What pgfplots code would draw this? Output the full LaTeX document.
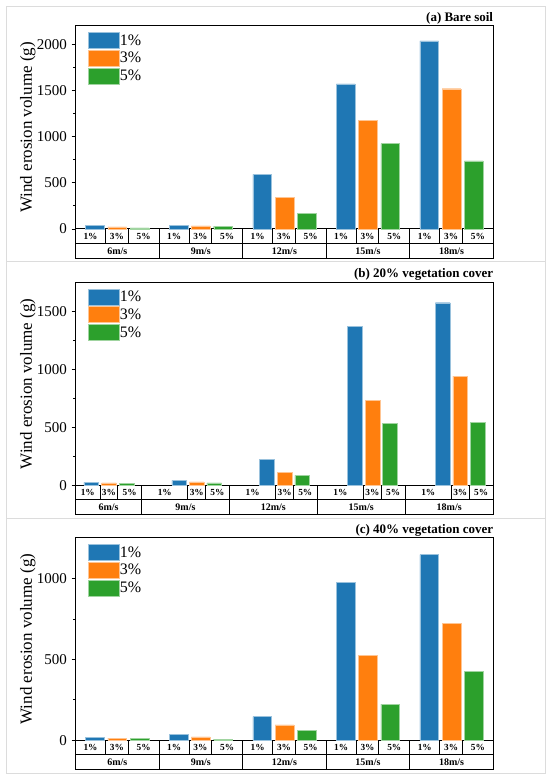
\documentclass[border=0pt]{standalone}
\usepackage{fontspec}
\setmainfont{Liberation Serif}
\usepackage{pgfplots}
\pgfplotsset{compat=1.18}
\definecolor{tabblue}{HTML}{1F77B4}
\definecolor{taborange}{HTML}{FF7F0E}
\definecolor{tabgreen}{HTML}{2CA02C}
\definecolor{panelgray}{HTML}{DCDCDC}

\tikzset{
  tabline/.style={line width=0.9pt},
  r1/.style={font=\fontsize{9.3}{9.3}\selectfont\bfseries, inner sep=0pt},
  r2/.style={font=\fontsize{10}{10}\selectfont\bfseries, inner sep=0pt},
  bstyle/.style={fill=#1, draw=#1!45!white, line width=0.4pt},
}
% vertical table line at x=#1 going down #2 pt
\newcommand{\vl}[2]{\draw[tabline] (axis cs:#1,0) -- ([yshift=-#2pt]axis cs:#1,0);}
% table frame: total depth #1, row separator #2
\newcommand{\tframe}[2]{%
  \draw[tabline] (rel axis cs:0,0) -- ([yshift=-#1pt]rel axis cs:0,0) -- ([yshift=-#1pt]rel axis cs:1,0) -- (rel axis cs:1,0);
  \draw[tabline] ([yshift=-#2pt]rel axis cs:0,0) -- ([yshift=-#2pt]rel axis cs:1,0);}
\newcommand{\ta}[3]{\node[r1] at ([yshift=-#2pt]axis cs:#1,0) {#3};}
\newcommand{\tb}[3]{\node[r2] at ([yshift=-#2pt]axis cs:#1,0) {#3};}

\pgfplotsset{
  panel/.style={
    scale only axis,
    width=417.8pt,
    ymin=0,
    clip=false,
    axis line style={line width=1pt},
    xtick=\empty,
    ytick pos=left,
    tick align=outside,
    major tick length=4pt,
    minor tick length=2.5pt,
    minor y tick num=1,
    every tick/.style={black, line width=0.8pt},
    /pgf/number format/assume math mode=true,
    /pgf/number format/1000 sep={},
    yticklabel style={font=\fontsize{15}{15}\selectfont, xshift=-1pt},
    ylabel={Wind erosion volume (g)},
    ylabel style={at={(axis description cs:-0.114,0.5)}, anchor=center, font=\fontsize{17}{17}\selectfont},
    legend style={at={(axis description cs:0.0306,0.968)}, anchor=north west, draw=none, fill=none,
      inner sep=0pt, outer sep=0pt, row sep=1.2pt,
      font=\fontsize{16}{16}\selectfont,
      nodes={inner sep=0pt}},
    legend cell align=left,
    /tikz/every even column/.append style={column sep=3.5pt},
  },
  leg/.style={legend image code/.code={\draw[##1, line width=0.5pt] (0pt,-8pt) rectangle (31pt,8pt);}},
}

\begin{document}
\begin{tikzpicture}[x=1pt,y=1pt]
\path[use as bounding box] (0,0) rectangle (550,777);
\draw[panelgray, line width=0.8pt] (6,771) rectangle (545,516);
\draw[panelgray, line width=0.8pt] (6,516) rectangle (545,259);
\draw[panelgray, line width=0.8pt] (6,259) rectangle (545,4);

% ---------------- Panel (a) ----------------
\begin{axis}[panel, at={(75.5pt,548pt)}, anchor=south west, height=203.3pt,
  xmin=0.5, xmax=5.5, ymax=2200, ytick={0,500,1000,1500,2000},
  ybar, bar width=0.224, leg]
\addplot[bstyle=tabblue, bar shift=-0.266] coordinates {(1,40) (2,43) (3,590) (4,1570) (5,2035)};
\addplot[bstyle=taborange, bar shift=0] coordinates {(1,22) (2,33) (3,345) (4,1175) (5,1518)};
\addplot[bstyle=tabgreen, bar shift=0.266] coordinates {(1,11) (2,28) (3,170) (4,925) (5,738)};
\legend{1\%,3\%,5\%}
\node[anchor=base east, inner sep=0pt, font=\fontsize{13}{13}\selectfont\bfseries] at ([yshift=4.5pt]rel axis cs:1,1) {(a) Bare soil};
\tframe{29.5}{14.5}
\vl{1.5}{29.5}\vl{2.5}{29.5}\vl{3.5}{29.5}\vl{4.5}{29.5}
\vl{0.86}{14.5}\vl{1.13}{14.5}\vl{1.86}{14.5}\vl{2.13}{14.5}\vl{2.86}{14.5}
\vl{3.13}{14.5}\vl{3.86}{14.5}\vl{4.13}{14.5}\vl{4.86}{14.5}\vl{5.13}{14.5}
\ta{0.68}{7.25}{1\%}\ta{0.995}{7.25}{3\%}\ta{1.315}{7.25}{5\%}
\ta{1.68}{7.25}{1\%}\ta{1.995}{7.25}{3\%}\ta{2.315}{7.25}{5\%}
\ta{2.68}{7.25}{1\%}\ta{2.995}{7.25}{3\%}\ta{3.315}{7.25}{5\%}
\ta{3.68}{7.25}{1\%}\ta{3.995}{7.25}{3\%}\ta{4.315}{7.25}{5\%}
\ta{4.68}{7.25}{1\%}\ta{4.995}{7.25}{3\%}\ta{5.315}{7.25}{5\%}
\tb{1}{22}{6m/s}\tb{2}{22}{9m/s}\tb{3}{22}{12m/s}\tb{4}{22}{15m/s}\tb{5}{22}{18m/s}
\end{axis}

% ---------------- Panel (b) ----------------
\begin{axis}[panel, at={(75.5pt,291.7pt)}, anchor=south west, height=203pt,
  xmin=0.1, xmax=23.88, ymax=1750, ytick={0,500,1000,1500},
  ybar, bar width=0.84, leg]
\addplot[bstyle=tabblue, bar shift=0] coordinates {(1,26) (6,43) (11,224) (16,1368) (21,1574)};
\addplot[bstyle=taborange, bar shift=0] coordinates {(2,20) (7,29) (12,112) (17,734) (22,941)};
\addplot[bstyle=tabgreen, bar shift=0] coordinates {(3,14) (8,20) (13,86) (18,533) (23,542)};
\legend{1\%,3\%,5\%}
\node[anchor=base east, inner sep=0pt, font=\fontsize{13}{13}\selectfont\bfseries] at ([yshift=4.5pt]rel axis cs:1,1) {(b) 20\% vegetation cover};
\tframe{29}{14}
\vl{3.86}{29}\vl{8.86}{29}\vl{13.86}{29}\vl{18.86}{29}
\vl{1.5}{14}\vl{2.5}{14}\vl{6.5}{14}\vl{7.5}{14}\vl{11.5}{14}
\vl{12.5}{14}\vl{16.5}{14}\vl{17.5}{14}\vl{21.5}{14}\vl{22.5}{14}
\ta{0.8}{7}{1\%}\ta{2}{7}{3\%}\ta{3.18}{7}{5\%}
\ta{5.18}{7}{1\%}\ta{7}{7}{3\%}\ta{8.18}{7}{5\%}
\ta{10.18}{7}{1\%}\ta{12}{7}{3\%}\ta{13.18}{7}{5\%}
\ta{15.18}{7}{1\%}\ta{17}{7}{3\%}\ta{18.18}{7}{5\%}
\ta{20.18}{7}{1\%}\ta{22}{7}{3\%}\ta{23.19}{7}{5\%}
\tb{1.98}{21.5}{6m/s}\tb{6.36}{21.5}{9m/s}\tb{11.36}{21.5}{12m/s}\tb{16.36}{21.5}{15m/s}\tb{21.37}{21.5}{18m/s}
\end{axis}

% ---------------- Panel (c) ----------------
\begin{axis}[panel, at={(75.5pt,36.7pt)}, anchor=south west, height=202.3pt,
  xmin=0.5, xmax=5.5, ymax=1250, ytick={0,500,1000},
  ybar, bar width=0.224, leg]
\addplot[bstyle=tabblue, bar shift=-0.266] coordinates {(1,18) (2,37) (3,146) (4,977) (5,1148)};
\addplot[bstyle=taborange, bar shift=0] coordinates {(1,14) (2,21) (3,95) (4,525) (5,722)};
\addplot[bstyle=tabgreen, bar shift=0.266] coordinates {(1,10) (2,8) (3,62) (4,224) (5,424)};
\legend{1\%,3\%,5\%}
\node[anchor=base east, inner sep=0pt, font=\fontsize{13}{13}\selectfont\bfseries] at ([yshift=4pt]rel axis cs:1,1) {(c) 40\% vegetation cover};
\tframe{29}{14.5}
\vl{1.5}{29}\vl{2.5}{29}\vl{3.5}{29}\vl{4.5}{29}
\vl{0.86}{14.5}\vl{1.13}{14.5}\vl{1.86}{14.5}\vl{2.13}{14.5}\vl{2.86}{14.5}
\vl{3.13}{14.5}\vl{3.86}{14.5}\vl{4.13}{14.5}\vl{4.86}{14.5}\vl{5.13}{14.5}
\ta{0.68}{7.25}{1\%}\ta{0.995}{7.25}{3\%}\ta{1.315}{7.25}{5\%}
\ta{1.68}{7.25}{1\%}\ta{1.995}{7.25}{3\%}\ta{2.315}{7.25}{5\%}
\ta{2.68}{7.25}{1\%}\ta{2.995}{7.25}{3\%}\ta{3.315}{7.25}{5\%}
\ta{3.68}{7.25}{1\%}\ta{3.995}{7.25}{3\%}\ta{4.315}{7.25}{5\%}
\ta{4.68}{7.25}{1\%}\ta{4.995}{7.25}{3\%}\ta{5.315}{7.25}{5\%}
\tb{1}{22}{6m/s}\tb{2}{22}{9m/s}\tb{3}{22}{12m/s}\tb{4}{22}{15m/s}\tb{5}{22}{18m/s}
\end{axis}
\end{tikzpicture}
\end{document}
